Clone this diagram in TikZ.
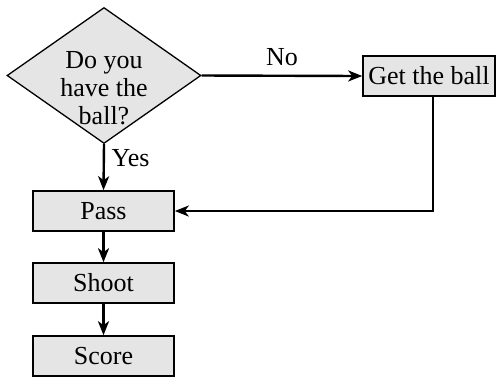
\documentclass[tikz,border=0pt]{standalone}
\usepackage{fontspec}
\setmainfont{Liberation Serif}
\usetikzlibrary{shapes.geometric,arrows.meta}
\begin{document}
\begin{tikzpicture}[x=0.5pt,y=-0.5pt,
  every node/.style={font=\fontsize{13}{14}\selectfont},
  box/.style={draw, line width=0.8pt, fill=black!10, inner sep=0pt,
              minimum width=70.5pt, minimum height=20pt},
  decision/.style={diamond, aspect=1.43, draw, line width=0.65pt, fill=black!10,
              inner sep=0pt, minimum width=97pt, minimum height=68pt},
  flow/.style={line width=1.2pt, -{Stealth[length=7pt,width=5.5pt,inset=2pt]}}]
\useasboundingbox (0,0) rectangle (496,377);
% decision diamond, with its question set slightly below the centre
\node[decision] (have) at (104,75.5) {};
\node[align=center, inner sep=0pt] (question) at (104,88) {Do you\\have the\\ball?};
\node[box, minimum width=66pt] (get) at (429,76) {Get the ball};
\node[box] (pass) at (103.5,211) {Pass};
\node[box] (shoot) at (103.5,283) {Shoot};
\node[box] (score) at (103.5,356) {Score};
\draw[flow] (have.east) -- node[above, yshift=1pt] {No} (get.west);
\draw[flow] (have.south) -- node[right, pos=0.3] {Yes} (pass.north);
\draw[flow] ([xshift=2pt]get.south) |- (pass.east);
\draw[flow] (pass) -- (shoot);
\draw[flow] (shoot) -- (score);
\end{tikzpicture}
\end{document}
